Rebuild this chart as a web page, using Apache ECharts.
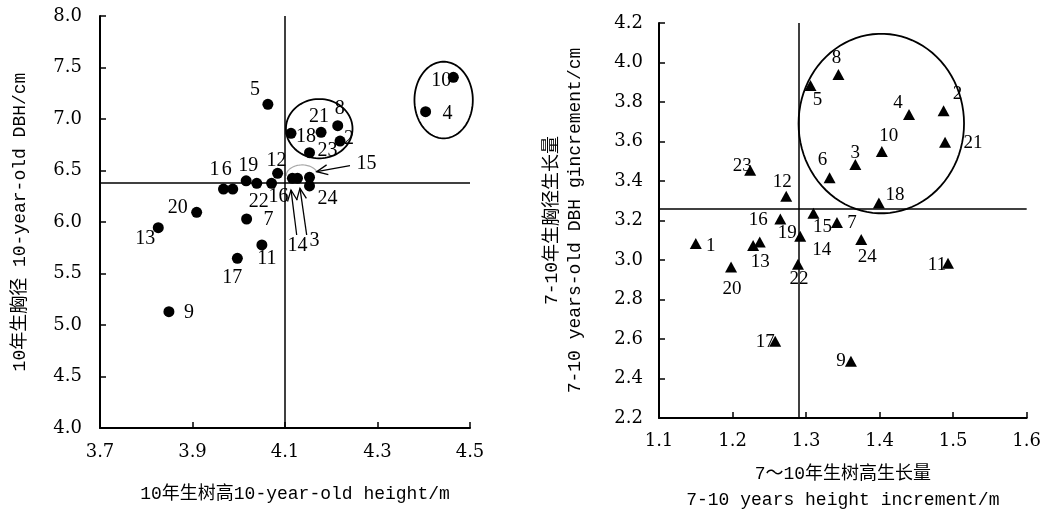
<!DOCTYPE html>
<html>
<head>
<meta charset="utf-8">
<script src="https://cdn.jsdelivr.net/npm/echarts@6/dist/echarts.min.js"></script>
<style>
  html, body { margin: 0; padding: 0; background: #fff; }
  #main { width: 1044px; height: 518px; }
</style>
</head>
<body>
<div id="main"></div>
<script>
// 左图：10年生树高 / 10年生胸径
const ids = [1, 2, 3, 4, 5, 6, 7, 8, 9, 10, 11, 12, 13, 14, 15, 16, 17, 18, 19, 20, 21, 22, 23, 24];
const height10 = [3.967, 4.219, 4.127, 4.404, 4.063, 3.987, 4.017, 4.214, 3.849, 4.464, 4.050, 4.084,
                  3.826, 4.116, 4.153, 4.071, 3.997, 4.113, 4.016, 3.909, 4.178, 4.039, 4.153, 4.153];
const dbh10 = [6.32, 6.786, 6.424, 7.071, 7.143, 6.32, 6.029, 6.935, 5.129, 7.405, 5.777, 6.473,
               5.945, 6.424, 6.434, 6.376, 5.647, 6.861, 6.40, 6.094, 6.871, 6.376, 6.673, 6.35];
const leftXTicks = [3.7, 3.9, 4.1, 4.3, 4.5];
const leftYTicks = [4.0, 4.5, 5.0, 5.5, 6.0, 6.5, 7.0, 7.5, 8.0];
const leftMeanX = 4.1;
const leftMeanY = 6.38;

// 右图：7~10年生树高生长量 / 胸径生长量
const heightInc = [1.150, 1.487, 1.367, 1.440, 1.306, 1.332, 1.342, 1.344, 1.361, 1.403, 1.493, 1.273,
                   1.228, 1.237, 1.310, 1.265, 1.258, 1.399, 1.292, 1.198, 1.489, 1.289, 1.224, 1.375];
const dbhInc = [3.083, 3.756, 3.483, 3.737, 3.883, 3.417, 3.19, 3.939, 2.487, 3.55, 2.983, 3.323,
                3.074, 3.091, 3.237, 3.207, 2.589, 3.289, 3.12, 2.964, 3.596, 2.978, 3.455, 3.104];
const rightXTicks = [1.1, 1.2, 1.3, 1.4, 1.5, 1.6];
const rightYTicks = [2.2, 2.4, 2.6, 2.8, 3.0, 3.2, 3.4, 3.6, 3.8, 4.0, 4.2];
const rightMeanX = 1.295;
const rightMeanY = 3.262;

// 圈和箭头（数据坐标：中心x, 中心y, 半径x, 半径y）
const leftEllipses = [[4.174, 6.906, 0.072, 0.288], [4.443, 7.184, 0.0631, 0.372]];
const leftArc = [[4.137, 6.447, 0.0346, 0.107]];
const leftArrows = [[4.2405, 6.547, 4.1685, 6.489], [4.1253, 5.874, 4.1130, 6.311], [4.1469, 5.874, 4.1324, 6.327]];
const rightEllipses = [[1.4023, 3.691, 0.1125, 0.4545]];

// 标签偏移（像素）
const leftLabelOffset = {
  1: [-9, -19], 2: [9, -2], 3: [17, 62], 4: [22, 2], 5: [-13, -15], 6: [-6, -19], 7: [22, 1], 8: [2, -17],
  9: [20, 1], 10: [-12, 3], 11: [5, 14], 12: [-1, -13], 13: [-13, 11], 14: [5, 67], 15: [57, -14], 16: [7, 13],
  17: [-5, 19], 18: [15, 3], 19: [2, -15], 20: [-19, -5], 21: [-2, -16], 22: [2, 18], 23: [18, -2], 24: [18, 13]
};
const rightLabelOffset = {
  1: [15, 2], 2: [14, -17], 3: [0, -12], 4: [-11, -11], 5: [7, 14], 6: [-7, -18], 7: [15, 1], 8: [-2, -17],
  9: [-10, 0], 10: [7, -15], 11: [-11, 2], 12: [-4, -14], 13: [7, 17], 14: [62, 8], 15: [9, 14], 16: [-22, 1],
  17: [-10, 1], 18: [16, -8], 19: [-13, -3], 20: [1, 22], 21: [28, 1], 22: [1, 15], 23: [-8, -4], 24: [6, 18]
};

const monoFont = '"Liberation Mono", "Noto Sans CJK SC", monospace';
const tickFont = '"DejaVu Serif", serif';
const ink = '#000';

function pointData(xs, ys, offs) {
  return ids.map((id, i) => ({
    value: [xs[i], ys[i]],
    name: String(id),
    label: { offset: offs[id] }
  }));
}

function ellipseItem(params, api) {
  const c = api.coord([api.value(0), api.value(1)]);
  const s = api.size([api.value(2), api.value(3)]);
  const pts = [];
  for (let i = 0; i <= 90; i++) {
    const a = i / 90 * Math.PI * 2;
    pts.push([c[0] + s[0] * Math.cos(a), c[1] + s[1] * Math.sin(a)]);
  }
  return { type: 'polyline', shape: { points: pts }, style: { fill: null, stroke: ink, lineWidth: 1.8 } };
}

function arcItem(params, api) {
  const c = api.coord([api.value(0), api.value(1)]);
  const s = api.size([api.value(2), api.value(3)]);
  const pts = [];
  for (let i = 0; i <= 40; i++) {
    const a = Math.PI + i / 40 * Math.PI * 0.9;
    pts.push([c[0] + s[0] * Math.cos(a), c[1] + s[1] * Math.sin(a)]);
  }
  return { type: 'polyline', shape: { points: pts }, style: { fill: null, stroke: '#aaa', lineWidth: 1.2 } };
}

function arrowItem(params, api) {
  const p1 = api.coord([api.value(0), api.value(1)]);
  const p2 = api.coord([api.value(2), api.value(3)]);
  const ang = Math.atan2(p2[1] - p1[1], p2[0] - p1[0]);
  const L = 12, w = 0.42;
  const b1 = [p2[0] - L * Math.cos(ang - w), p2[1] - L * Math.sin(ang - w)];
  const b2 = [p2[0] - L * Math.cos(ang + w), p2[1] - L * Math.sin(ang + w)];
  return {
    type: 'group',
    children: [
      { type: 'line', shape: { x1: p1[0], y1: p1[1], x2: p2[0], y2: p2[1] }, style: { stroke: ink, lineWidth: 1.3 } },
      { type: 'polyline', shape: { points: [b1, p2, b2] }, style: { fill: null, stroke: ink, lineWidth: 1.3 } }
    ]
  };
}

const tickLabel = (ticks, margin) => ({
  customValues: ticks,
  formatter: v => v.toFixed(1),
  margin: margin,
  fontFamily: tickFont, fontSize: 18, color: ink
});

function valueAxis(gridIndex, min, max, ticks, extra) {
  return Object.assign({
    gridIndex: gridIndex,
    type: 'value',
    min: min,
    max: max,
    splitLine: { show: false },
    axisLine: { onZero: false, lineStyle: { color: ink, width: 2 } },
    axisTick: { inside: true, length: 6, customValues: ticks, lineStyle: { color: ink, width: 1.5 } },
    nameLocation: 'middle',
    nameTextStyle: { fontFamily: monoFont, fontSize: 18, color: ink }
  }, extra);
}

const labelStyle = size => ({
  show: true, position: 'inside', formatter: '{b}',
  fontFamily: '"Liberation Serif", serif', fontSize: size, color: ink
});

const refLine = (xv, yv) => ({
  symbol: 'none', silent: true, label: { show: false },
  lineStyle: { color: ink, type: 'solid', width: 1.5, opacity: 1 },
  data: [{ xAxis: xv }, { yAxis: yv }]
});

const myChart = echarts.init(document.getElementById('main'));
const option = {
  animation: false,
  backgroundColor: '#fff',
  grid: [
    { left: 100, top: 16, width: 370, height: 412 },
    { left: 659, top: 23, width: 368, height: 403 }
  ],
  xAxis: [
    valueAxis(0, 3.7, 4.5, leftXTicks, {
      name: '10年生树高10-year-old height/m', nameGap: 57,
      axisLabel: tickLabel(leftXTicks, 15),
      nameTextStyle: { fontFamily: monoFont, fontSize: 18, color: ink, padding: [0, 0, 0, 20] }
    }),
    valueAxis(1, 1.1, 1.6, rightXTicks, {
      name: '7～10年生树高生长量\n7-10 years height increment/m', nameGap: 43,
      axisLabel: tickLabel(rightXTicks, 14),
      nameTextStyle: { fontFamily: monoFont, fontSize: 18, lineHeight: 26, color: ink }
    })
  ],
  yAxis: [
    valueAxis(0, 4.0, 8.0, leftYTicks, {
      name: '10年生胸径 10-year-old DBH/cm', nameGap: 71, nameRotate: 90,
      axisLabel: tickLabel(leftYTicks, 18)
    }),
    valueAxis(1, 2.2, 4.2, rightYTicks, {
      name: '7-10年生胸径生长量\n7-10 years-old DBH gincrement/cm', nameGap: 72, nameRotate: 90,
      axisLabel: tickLabel(rightYTicks, 16),
      nameTextStyle: { fontFamily: monoFont, fontSize: 18, lineHeight: 23, color: ink }
    })
  ],
  series: [
    {
      type: 'scatter', xAxisIndex: 0, yAxisIndex: 0, z: 5,
      symbol: 'circle', symbolSize: 11,
      itemStyle: { color: ink, opacity: 1 },
      label: labelStyle(20),
      data: pointData(height10, dbh10, leftLabelOffset),
      markLine: refLine(leftMeanX, leftMeanY)
    },
    {
      type: 'scatter', xAxisIndex: 1, yAxisIndex: 1, z: 5,
      symbol: 'triangle', symbolSize: [12, 11],
      itemStyle: { color: ink, opacity: 1 },
      label: labelStyle(19),
      data: pointData(heightInc, dbhInc, rightLabelOffset),
      markLine: refLine(rightMeanX, rightMeanY)
    },
    { type: 'custom', xAxisIndex: 0, yAxisIndex: 0, renderItem: ellipseItem, encode: { x: 0, y: 1 }, data: leftEllipses, silent: true },
    { type: 'custom', xAxisIndex: 0, yAxisIndex: 0, renderItem: arcItem, encode: { x: 0, y: 1 }, data: leftArc, silent: true },
    { type: 'custom', xAxisIndex: 0, yAxisIndex: 0, renderItem: arrowItem, encode: { x: 0, y: 1 }, data: leftArrows, silent: true },
    { type: 'custom', xAxisIndex: 1, yAxisIndex: 1, renderItem: ellipseItem, encode: { x: 0, y: 1 }, data: rightEllipses, silent: true }
  ]
};
myChart.setOption(option);
</script>
</body>
</html>
